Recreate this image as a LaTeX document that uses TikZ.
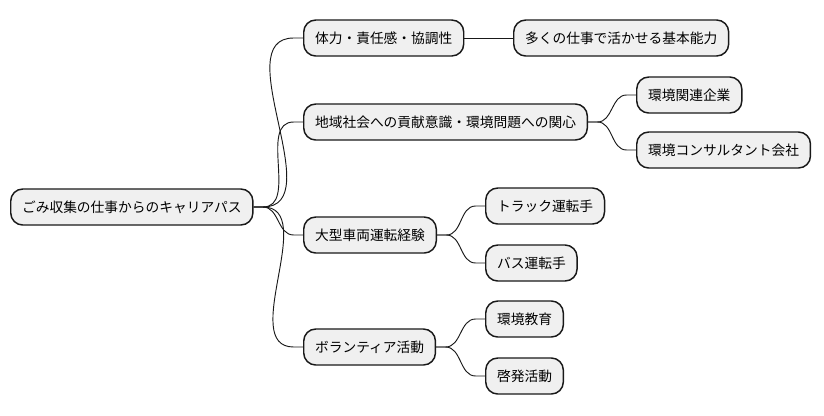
\documentclass[tikz,border=0pt]{standalone}
\usepackage{fontspec}
\newfontfamily\jpfont{Noto Sans CJK JP}
\usetikzlibrary{positioning}

\tikzset{
  topic/.style={draw=black!90, fill=black!6, line width=1.1pt, rounded corners=9pt,
    minimum height=27pt, inner xsep=8.5pt, inner ysep=0pt, anchor=west,
    font=\jpfont\fontsize{10.3pt}{12pt}\selectfont},
  link/.style={line width=0.7pt, black!90}
}

\begin{document}
\begin{tikzpicture}[x=0.75pt, y=-0.75pt]
  \useasboundingbox (0,0) rectangle (824,415);

  % root
  \node[topic] (root) at (10,207) {ごみ収集の仕事からのキャリアパス};

  % first level
  \node[topic] (skill) at (303,38) {体力・責任感・協調性};
  \node[topic] (env) at (303,122) {地域社会への貢献意識・環境問題への関心};
  \node[topic] (drive) at (303,235) {大型車両運転経験};
  \node[topic] (vol) at (303,347) {ボランティア活動};

  % second level
  \node[topic] (basic) at (513,38) {多くの仕事で活かせる基本能力};
  \node[topic] (firm) at (636,95) {環境関連企業};
  \node[topic] (consult) at (636,150) {環境コンサルタント会社};
  \node[topic] (truck) at (485,206) {トラック運転手};
  \node[topic] (bus) at (485,263) {バス運転手};
  \node[topic] (edu) at (485,319) {環境教育};
  \node[topic] (aware) at (485,376) {啓発活動};

  \foreach \p/\c in {root/skill, root/env, root/drive, root/vol,
                     env/firm, env/consult,
                     drive/truck, drive/bus, vol/edu, vol/aware}
    \draw[link] (\p.east) -- ++(7pt,0) to[out=0,in=180] ([xshift=-7pt]\c.west) -- (\c.west);
  \draw[link] (skill.east) -- (basic.west);
\end{tikzpicture}
\end{document}
